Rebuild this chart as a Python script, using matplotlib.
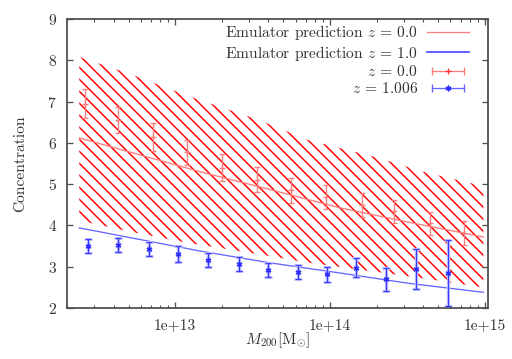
import matplotlib
matplotlib.use("Agg")
import matplotlib.pyplot as plt
import numpy as np
from matplotlib.lines import Line2D
from matplotlib.legend_handler import HandlerLine2D, HandlerTuple
from matplotlib.ticker import NullFormatter

# emulator predictions (mass in Msun)
emu_mass = [2.4e12, 1.45e13, 4.0e13, 1.15e14, 3.2e14, 9.8e14]
emu_z0 = [6.12, 5.30, 4.88, 4.43, 4.08, 3.72]
emu_z1 = [3.94, 3.38, 3.10, 2.85, 2.60, 2.38]

# uncertainty band around the z = 0 prediction
band_mass = [2.4e12, 5.1e12, 1.2e13, 3.5e13, 7.2e13, 1.95e14, 4.0e14, 9.8e14]
band_hi = [8.08, 7.67, 7.14, 6.55, 6.07, 5.66, 5.30, 4.95]
band_lo = [4.12, 3.85, 3.58, 3.30, 3.10, 2.88, 2.72, 2.50]

# simulation measurements, z = 0.0
m_z0 = [2.6e12, 4.3e12, 7.2e12, 1.2e13, 2.0e13, 3.4e13, 5.6e13, 9.4e13,
        1.6e14, 2.6e14, 4.4e14, 7.3e14]
c_z0 = [6.95, 6.55, 6.14, 5.77, 5.40, 5.11, 4.85, 4.69, 4.50, 4.34, 4.05, 3.82]
e_z0 = [0.35, 0.32, 0.34, 0.30, 0.33, 0.30, 0.31, 0.29, 0.29, 0.28, 0.28, 0.29]

# simulation measurements, z = 1.006
m_z1 = [2.75e12, 4.3e12, 6.8e12, 1.05e13, 1.62e13, 2.57e13, 4.0e13, 6.2e13,
        9.5e13, 1.48e14, 2.3e14, 3.6e14, 5.75e14]
c_z1 = [3.50, 3.53, 3.43, 3.31, 3.16, 3.07, 2.92, 2.87, 2.82, 2.97, 2.70, 2.94, 2.85]
e_z1 = [0.17, 0.165, 0.17, 0.185, 0.17, 0.17, 0.17, 0.17, 0.185, 0.23, 0.28, 0.485, 0.8]

xticks = [1e13, 1e14, 1e15]
xtick_labels = ["1e+13", "1e+14", "1e+15"]
labels = ["Emulator prediction $z$ = 0.0", "Emulator prediction $z$ = 1.0",
          "$z$ = 0.0", "$z$ = 1.006"]

# dpi chosen so the hatch spacing matches the gnuplot pattern
dpi = 144


def px(v):
    # pixels -> points
    return v * 72 / dpi


plt.rcParams["font.family"] = ["cmr10", "DejaVu Serif"]
plt.rcParams["mathtext.fontset"] = "cm"
plt.rcParams["axes.formatter.use_mathtext"] = True
plt.rcParams["hatch.linewidth"] = px(1.5)
fs = px(15.5)
star = (6, 2, 0)
txt = "#333333"
red_l = "#ff7a7a"
blue_l = "#6464ff"
blue_d = "#2a2aff"

fig = plt.figure(figsize=(512 / dpi, 359 / dpi), dpi=dpi)
ax = fig.add_axes([67 / 512, 1 - 308 / 359, (488 - 67) / 512, (308 - 19) / 359])

ax.fill_between(band_mass, band_lo, band_hi, facecolor="none", edgecolor="#ff0000",
                hatch="\\\\\\\\", linewidth=0)

ax.plot(emu_mass, emu_z0, color=red_l, lw=px(1.3))
ax.plot(emu_mass, emu_z1, color=blue_l, lw=px(1.3))

ax.errorbar(m_z0, c_z0, yerr=e_z0, fmt="+", color=red_l, ms=px(6.5), mew=px(1.3),
            elinewidth=px(1.3), capsize=px(3.3), capthick=px(1.3))
ax.errorbar(m_z1, c_z1, yerr=e_z1, fmt="none", ecolor="#c4c4ff",
            elinewidth=px(3.3), capsize=px(4), capthick=px(3))
ax.errorbar(m_z1, c_z1, yerr=e_z1, fmt="none", ecolor="#3a3aff",
            elinewidth=px(1.2), capsize=px(3.3), capthick=px(1.2))
ax.plot(m_z1, c_z1, ls="none", marker=star, color=blue_d, ms=px(5.8), mew=px(1.3))

ax.set_xscale("log")
ax.set_xlim(2e12, 1.05e15)
ax.set_ylim(2, 9)
ax.set_xticks(xticks, xtick_labels)
ax.xaxis.set_minor_formatter(NullFormatter())
ax.set_yticks(range(2, 10))

for s in ax.spines.values():
    s.set_color("#505050")
    s.set_linewidth(px(1.8))
ax.tick_params(which="both", direction="in", top=True, right=True, colors="#505050",
               labelcolor=txt, labelsize=fs)
ax.tick_params(which="major", length=px(6), width=px(1.3), pad=px(10))
ax.tick_params(which="minor", length=px(3), width=px(1.1))

ax.set_ylabel("Concentration", fontsize=fs, color=txt)
ax.yaxis.set_label_coords(-0.095, 0.5)
ax.set_xlabel(r"$M_{200}[\mathrm{M}_{\odot}]$", fontsize=fs, color=txt)
ax.xaxis.set_label_coords(0.5, -0.078)

# legend handles drawn in the gnuplot way
h_emu0 = Line2D([], [], color=red_l, lw=px(1.3))
h_emu1 = Line2D([], [], color=blue_l, lw=px(2))
h_cap0 = Line2D([], [], color=red_l, lw=px(1.3), marker="|", ms=px(8), mew=px(1.3))
h_pt0 = Line2D([], [], color="#ff3030", marker="+", ms=px(6.5), mew=px(1.3), ls="none")
h_cap1 = Line2D([], [], color=blue_l, lw=px(1.3), marker="|", ms=px(8), mew=px(1.3))
h_pt1 = Line2D([], [], color=blue_d, marker=star, ms=px(5.8), mew=px(1.3), ls="none")

ax.legend([h_emu0, h_emu1, (h_cap0, h_pt0), (h_cap1, h_pt1)], labels,
          handler_map={h_cap0: HandlerLine2D(numpoints=2),
                       h_cap1: HandlerLine2D(numpoints=2),
                       tuple: HandlerTuple(ndivide=1, pad=0)},
          loc="upper right", bbox_to_anchor=(0.955, 0.985), frameon=False,
          markerfirst=False, fontsize=fs, handlelength=2.7, handletextpad=0.6,
          labelspacing=0.1, borderaxespad=0, borderpad=0, labelcolor=txt)

fig.savefig("out.png", dpi=dpi)
